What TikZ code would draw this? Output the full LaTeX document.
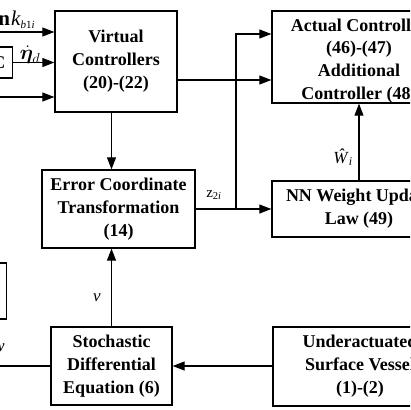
\documentclass[tikz,border=0pt]{standalone}
\usepackage{fontspec}
\setmainfont{Liberation Serif}
\usepackage{amsmath,bm}
\usetikzlibrary{arrows.meta}
\tikzset{
  blockbox/.style={draw, line width=1.3pt, align=center, inner sep=0pt,
    font=\bfseries\fontsize{18}{23}\selectfont},
  blocktext/.style={align=center, inner sep=0pt, font=\bfseries\fontsize{18}{22.7}\selectfont},
  sig/.style={line width=1.1pt, -{Triangle[length=12pt,width=9pt]}},
  wire/.style={line width=1.1pt},
  lbl/.style={inner sep=0pt, font=\fontsize{17}{20}\selectfont},
}
\newcommand{\smallsub}[1]{\raisebox{-3.5pt}{\fontsize{11}{11}\selectfont #1}}
\begin{document}
\begin{tikzpicture}[x=1pt,y=1pt,yscale=-1]
\useasboundingbox (0,0) rectangle (410,410);
\clip (0,0) rectangle (410,410);
% blocks
\node[blockbox, minimum width=122pt, minimum height=101pt] (vc) at (116,61.5) {Virtual\\Controllers\\(20)-(22)};
\node[blockbox, minimum width=174pt, minimum height=92pt] (ac) at (359,57) {};
\node[blocktext] (actext) at (359,61) {Actual Controller\\(46)-(47)\\Additional\\Controller (48)};
\node[blockbox, minimum width=153pt, minimum height=78pt] (ec) at (118.5,209) {Error Coordinate\\Transformation\\(14)};
\node[blockbox, minimum width=174pt, minimum height=56pt] (nn) at (359,209) {NN Weight Update\\Law (49)};
\node[blockbox, minimum width=121pt, minimum height=78pt] (sde) at (111.5,366) {Stochastic\\Differential\\Equation (6)};
\node[blockbox, minimum width=174pt, minimum height=79pt] (usv) at (360,366.5) {Underactuated\\Surface Vessel\\(1)-(2)};
% blocks cut by the left edge
\node[blockbox, anchor=east, inner xsep=7pt, minimum height=31pt] (ref) at (13,62.5) {C};
\node[blockbox, anchor=east, minimum width=60pt, minimum height=56pt] (lb) at (7,291) {};
% free ends
\coordinate (in1) at (0,32);
\coordinate (in3) at (0,97);
\coordinate (out) at (0,366);
\coordinate (zx) at (236,0);
\coordinate (zj) at (ec.east -| zx);
% connectors
\draw[sig] (in1) -- (in1 -| vc.west);
\draw[sig] (ref.east) -- (ref.east -| vc.west);
\draw[sig] (in3) -- (in3 -| vc.west);
\draw[sig] ([yshift=18.5pt]vc.east) -- ([yshift=18.5pt]vc.east -| ac.west);
\draw[sig] (vc.south -| sde.north) -- (ec.north -| sde.north);
\draw[sig] (sde.north) -- (sde.north |- ec.south);
\draw[sig] (ec.east) -- (nn.west);
\draw[sig] (zj) |- ([yshift=-23pt]ac.west);
\draw[sig] (nn.north) -- (nn.north |- ac.south);
\draw[sig] (sde.east -| usv.west) -- (sde.east);
\draw[wire] (sde.west) -- (sde.west -| out);
% labels
\node[lbl, anchor=base east, font=\fontsize{21}{24}\selectfont] (kb) at (35,25) {\textbf{Function}\kern1pt\textit{k}\smallsub{\textit{b}1\textit{i}}};
\node[lbl, font=\fontsize{20}{24}\selectfont] (etad) at (30,55) {$\dot{\bm{\eta}}_d$};
\node[lbl, font=\fontsize{15}{18}\selectfont] (z2) at (214,195) {z\textsubscript{2\textit{i}}};
\node[lbl, font=\fontsize{17}{18}\selectfont] (wh) at (343,157) {\textit{\^W}\textsubscript{\textit{i}}};
\node[lbl] (v) at (97,298) {\textit{v}};
\node[lbl] (w) at (-1,348) {\textit{w}};
\end{tikzpicture}
\end{document}
